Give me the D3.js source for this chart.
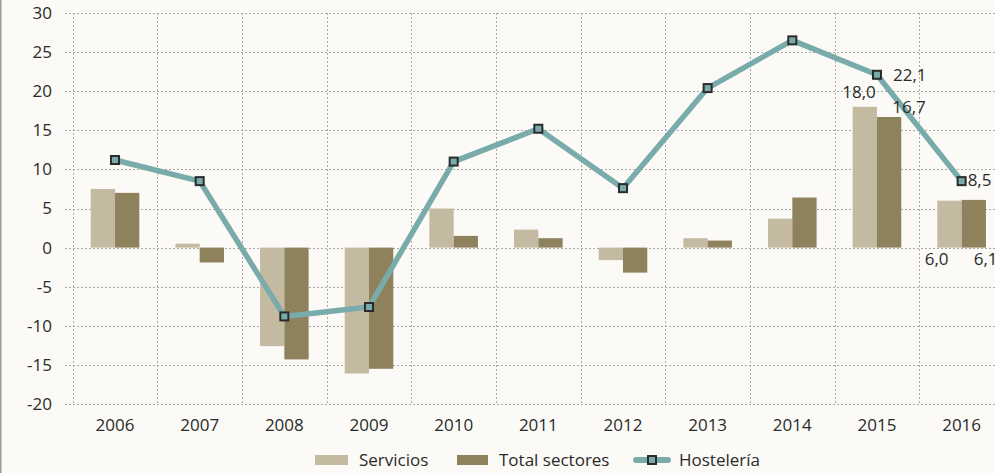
<!DOCTYPE html>
<html>
<head>
<meta charset="utf-8">
<script src="https://cdn.jsdelivr.net/npm/d3@7"></script>
<style>
  html, body { margin: 0; padding: 0; background: #fbfaf6; }
  #chart { width: 995px; height: 473px; }
  text { font-family: "Open Sans", sans-serif; fill: #2a2a2a; }
</style>
</head>
<body>
<div id="chart"></div>
<script>
// data
const years = ["2006", "2007", "2008", "2009", "2010", "2011", "2012", "2013", "2014", "2015", "2016"];
const servicios = [7.5, 0.5, -12.6, -16.1, 5.0, 2.3, -1.6, 1.2, 3.7, 18.0, 6.0];
const totalSectores = [7.0, -1.9, -14.3, -15.5, 1.5, 1.2, -3.2, 0.9, 6.4, 16.7, 6.1];
const hosteleria = [11.2, 8.5, -8.8, -7.6, 11.0, 15.2, 7.6, 20.4, 26.5, 22.1, 8.5];
const yTicks = [30, 25, 20, 15, 10, 5, 0, -5, -10, -15, -20];

const width = 995, height = 473;
const colServ = "#c4baa1", colTotal = "#8e825c", colLine = "#7aabab", colMarker = "#2b2b2b";
const fmt = v => v.toFixed(1).replace(".", ",");

const svg = d3.select("#chart").append("svg")
    .attr("width", width)
    .attr("height", height);

// left page edge
svg.append("line")
    .attr("x1", 0.75).attr("x2", 0.75).attr("y1", 0).attr("y2", height)
    .attr("stroke", "#9a9a9a").attr("stroke-width", 1.5);

const x = d3.scaleBand().domain(years).range([72.7, 72.7 + 11 * 84.66]).padding(0);
const y = d3.scaleLinear().domain([-20, 30]).range([404, 13]);
const barW = 24.3;

// grid
const grid = svg.append("g").attr("stroke", "#a9a9a9").attr("stroke-width", 1).attr("stroke-dasharray", "2,2");
grid.selectAll("line.h").data(yTicks).join("line")
    .attr("class", "h")
    .attr("x1", 65).attr("x2", width)
    .attr("y1", d => Math.round(y(d)) + 0.5).attr("y2", d => Math.round(y(d)) + 0.5);
grid.selectAll("line.v").data(years).join("line")
    .attr("class", "v")
    .attr("x1", d => Math.round(x(d)) + 0.5).attr("x2", d => Math.round(x(d)) + 0.5)
    .attr("y1", y(30)).attr("y2", y(-20));

// y labels
svg.append("g").selectAll("text").data(yTicks).join("text")
    .attr("x", 52).attr("y", d => y(d))
    .attr("dy", "0.35em")
    .attr("text-anchor", "end")
    .attr("font-size", 17)
    .text(d => d);

// x labels
svg.append("g").selectAll("text").data(years).join("text")
    .attr("x", d => x(d) + x.bandwidth() / 2).attr("y", 431)
    .attr("text-anchor", "middle")
    .attr("font-size", 17)
    .text(d => d);

// bars
const cx = d => x(d) + x.bandwidth() / 2;
svg.append("g").selectAll("rect").data(years).join("rect")
    .attr("x", d => cx(d) - barW)
    .attr("width", barW)
    .attr("y", (d, i) => y(Math.max(0, servicios[i])))
    .attr("height", (d, i) => Math.abs(y(servicios[i]) - y(0)))
    .attr("fill", colServ);
svg.append("g").selectAll("rect").data(years).join("rect")
    .attr("x", d => cx(d))
    .attr("width", barW)
    .attr("y", (d, i) => y(Math.max(0, totalSectores[i])))
    .attr("height", (d, i) => Math.abs(y(totalSectores[i]) - y(0)))
    .attr("fill", colTotal);

// line
const line = d3.line().x((d, i) => cx(years[i])).y(d => y(d));
svg.append("path")
    .datum(hosteleria)
    .attr("d", line)
    .attr("fill", "none")
    .attr("stroke", colLine)
    .attr("stroke-width", 5.5)
    .attr("stroke-linejoin", "round");
svg.append("g").selectAll("rect").data(hosteleria).join("rect")
    .attr("x", (d, i) => cx(years[i]) - 4)
    .attr("y", d => y(d) - 4)
    .attr("width", 8).attr("height", 8)
    .attr("fill", colLine)
    .attr("stroke", colMarker)
    .attr("stroke-width", 2);

// value labels (2015, 2016)
const labels = svg.append("g").attr("font-size", 17);
const i15 = years.indexOf("2015"), i16 = years.indexOf("2016");
labels.append("text").attr("x", cx("2015") - 18).attr("y", y(servicios[i15]) - 15)
    .attr("dy", "0.35em").attr("text-anchor", "middle").text(fmt(servicios[i15]));
labels.append("text").attr("x", cx("2015") + 32).attr("y", y(totalSectores[i15]) - 10)
    .attr("dy", "0.35em").attr("text-anchor", "middle").text(fmt(totalSectores[i15]));
labels.append("text").attr("x", cx("2015") + 16).attr("y", y(hosteleria[i15]))
    .attr("dy", "0.35em").attr("text-anchor", "start").text(fmt(hosteleria[i15]));
labels.append("text").attr("x", cx("2016") + 6).attr("y", y(hosteleria[i16]) - 1)
    .attr("dy", "0.35em").attr("text-anchor", "start").text(fmt(hosteleria[i16]));
labels.append("text").attr("x", cx("2016") - 25).attr("y", y(0) + 11)
    .attr("dy", "0.35em").attr("text-anchor", "middle").text(fmt(servicios[i16]));
labels.append("text").attr("x", cx("2016") + 24).attr("y", y(0) + 11)
    .attr("dy", "0.35em").attr("text-anchor", "middle").text(fmt(totalSectores[i16]));

// legend
const leg = svg.append("g").attr("font-size", 17);
const legY = 460;
leg.append("rect").attr("x", 315).attr("y", legY - 5).attr("width", 33).attr("height", 10).attr("fill", colServ);
leg.append("text").attr("x", 359).attr("y", legY).attr("dy", "0.35em").text("Servicios");
leg.append("rect").attr("x", 457).attr("y", legY - 5).attr("width", 31).attr("height", 10).attr("fill", colTotal);
leg.append("text").attr("x", 499).attr("y", legY).attr("dy", "0.35em").text("Total sectores");
leg.append("line").attr("x1", 636).attr("x2", 668).attr("y1", legY).attr("y2", legY)
    .attr("stroke", colLine).attr("stroke-width", 6).attr("stroke-linecap", "round");
leg.append("rect").attr("x", 648).attr("y", legY - 4).attr("width", 8).attr("height", 8)
    .attr("fill", colLine).attr("stroke", colMarker).attr("stroke-width", 2);
leg.append("text").attr("x", 679).attr("y", legY).attr("dy", "0.35em").text("Hostelería");
</script>
</body>
</html>
